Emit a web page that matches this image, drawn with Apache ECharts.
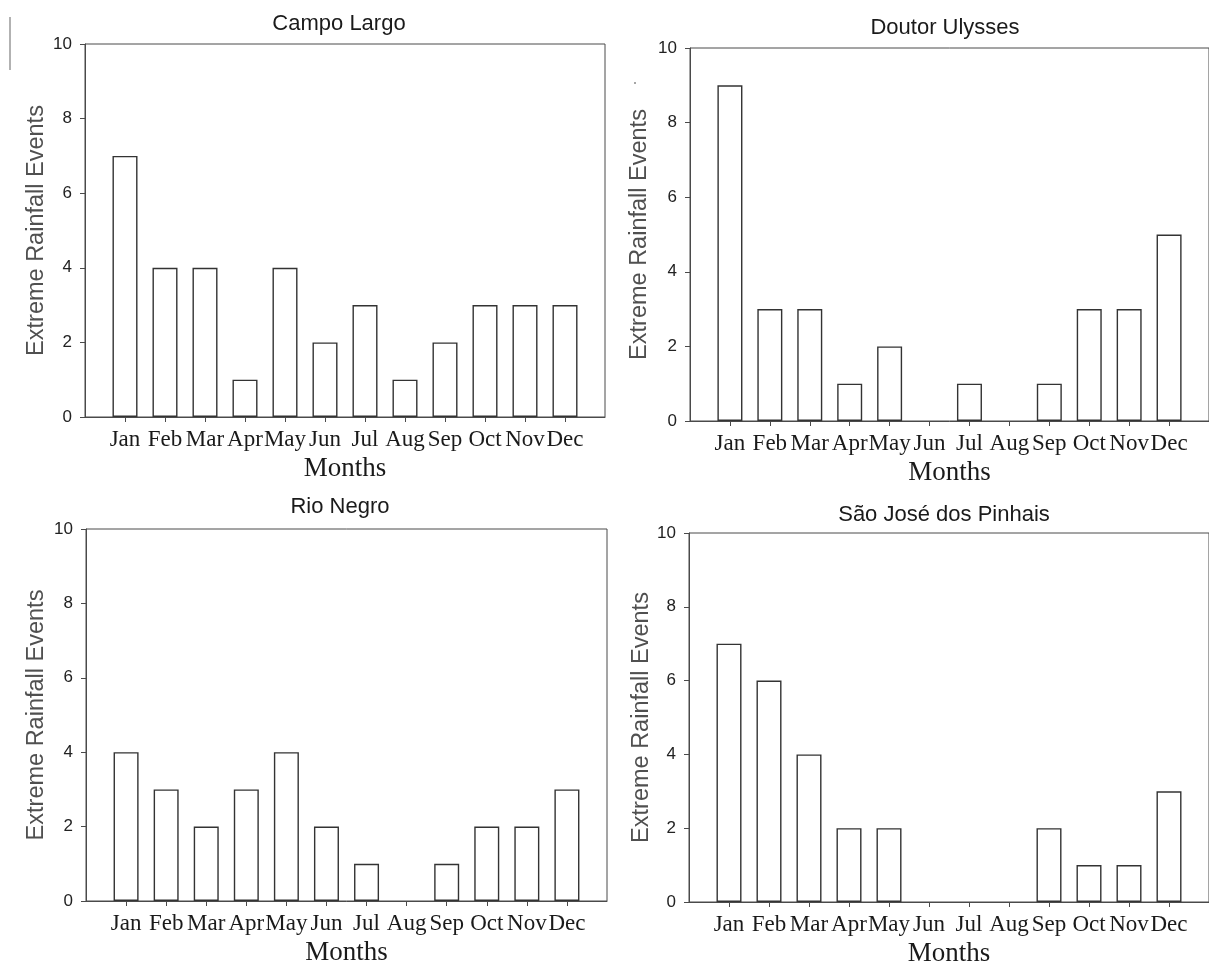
<!DOCTYPE html>
<html>
<head>
<meta charset="utf-8">
<script src="https://cdn.jsdelivr.net/npm/echarts@6/dist/echarts.min.js"></script>
<style>
html,body{margin:0;padding:0;background:#fff;}
#chart{width:1209px;height:968px;}
</style>
</head>
<body>
<div id="chart"></div>
<script>
var months = ['Jan','Feb','Mar','Apr','May','Jun','Jul','Aug','Sep','Oct','Nov','Dec'];
var stations = ['Campo Largo','Doutor Ulysses','Rio Negro','São José dos Pinhais'];
var campoLargo   = [7,4,4,1,4,2,3,1,2,3,3,3];
var doutorUlysses= [9,3,3,1,2,0,1,0,1,3,3,5];
var rioNegro     = [4,3,2,3,4,2,1,0,1,2,2,3];
var saoJose      = [7,6,4,2,2,0,0,0,2,1,1,3];
var yTicks = [0,2,4,6,8,10];
var seriesValues = [campoLargo, doutorUlysses, rioNegro, saoJose];

var layout = [
  {left:85,  top:44,  width:520, height:373, yGap:36, tx:334, ty:8},
  {left:690, top:48,  width:522, height:373, yGap:38, tx:940, ty:12},
  {left:86,  top:529, width:521, height:372, yGap:37, tx:335, ty:491},
  {left:689, top:533, width:521, height:373, yGap:30, tx:939, ty:499}
];
var monthPos = months.map(function(m,i){return i+1;});
var axisColor = '#4a4a4a';
var serif = 'Liberation Serif, Times New Roman, serif';
var sans = 'Liberation Sans, Arial, sans-serif';

var grids=[], xAxes=[], yAxes=[], series=[], titles=[];
layout.forEach(function(L,k){
  grids.push({left:L.left, top:L.top, width:L.width, height:L.height, show:true, borderColor:axisColor, borderWidth:1, containLabel:false});
  xAxes.push({
    type:'value', gridIndex:k, min:0, max:13, interval:1,
    splitLine:{show:false},
    axisLine:{show:true, lineStyle:{color:axisColor, width:1}},
    axisTick:{show:true, customValues:monthPos, length:5, inside:false, lineStyle:{color:axisColor}},
    axisLabel:{show:true, customValues:monthPos, margin:11, fontFamily:serif, fontSize:23, color:'#1a1a1a', hideOverlap:false,
      formatter:function(v){return months[v-1]||'';}},
    name:'Months', nameLocation:'middle', nameGap:38,
    nameTextStyle:{fontFamily:serif, fontSize:27, color:'#1a1a1a'}
  });
  yAxes.push({
    type:'value', gridIndex:k, min:yTicks[0], max:yTicks[yTicks.length-1], interval:2,
    splitLine:{show:false},
    axisLine:{show:true, lineStyle:{color:axisColor, width:1}},
    axisTick:{show:true, length:5, lineStyle:{color:axisColor}},
    axisLabel:{margin:13, fontFamily:sans, fontSize:17, color:'#222'},
    name:'Extreme Rainfall Events', nameLocation:'middle', nameGap:L.yGap, nameRotate:90,
    nameTextStyle:{fontFamily:sans, fontSize:23.5, color:'#505050'}
  });
  series.push({
    type:'bar', xAxisIndex:k, yAxisIndex:k, barWidth:25,
    itemStyle:{color:'#fff', borderColor:'#333', borderWidth:1.4},
    data: seriesValues[k].map(function(v,i){return v>0 ? [i+1, v] : [i+1, '-'];}),
    silent:true, animation:false
  });
  titles.push({text:stations[k], left:L.tx, top:L.ty, textAlign:'center',
    textStyle:{fontFamily:sans, fontSize:22, fontWeight:'normal', color:'#1a1a1a'}});
});

var chart = echarts.init(document.getElementById('chart'), null, {renderer:'canvas'});
chart.setOption({
  backgroundColor:'#fff',
  animation:false,
  title:titles,
  grid:grids, xAxis:xAxes, yAxis:yAxes, series:series,
  graphic:[
    {type:'line', shape:{x1:10,y1:17,x2:10,y2:70}, style:{stroke:'#999', lineWidth:1.5}},
    {type:'circle', shape:{cx:635, cy:83, r:1}, style:{fill:'#888'}}
  ]
});
</script>
</body>
</html>
